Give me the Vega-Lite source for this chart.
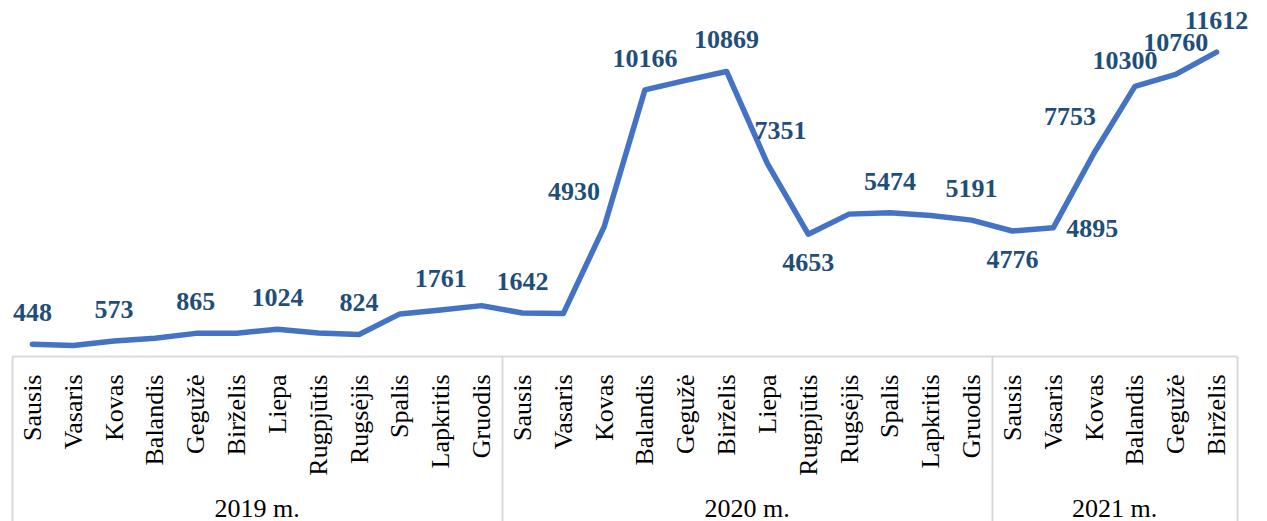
{
  "$schema": "https://vega.github.io/schema/vega-lite/v6.json",
  "width": 1225,
  "height": 356,
  "autosize": {"type": "none"},
  "padding": {"left": 12, "top": 0, "right": 30, "bottom": 165},
  "config": {"view": {"stroke": null}, "font": "Liberation Serif"},
  "data": {
    "values": [
      {"key": "2019|Sausis", "value": 448},
      {"key": "2019|Vasaris", "value": 405},
      {"key": "2019|Kovas", "value": 573},
      {"key": "2019|Balandis", "value": 680},
      {"key": "2019|Gegužė", "value": 865},
      {"key": "2019|Birželis", "value": 870},
      {"key": "2019|Liepa", "value": 1024},
      {"key": "2019|Rugpjūtis", "value": 880},
      {"key": "2019|Rugsėjis", "value": 824},
      {"key": "2019|Spalis", "value": 1608},
      {"key": "2019|Lapkritis", "value": 1761},
      {"key": "2019|Gruodis", "value": 1925},
      {"key": "2020|Sausis", "value": 1642},
      {"key": "2020|Vasaris", "value": 1620},
      {"key": "2020|Kovas", "value": 4930},
      {"key": "2020|Balandis", "value": 10166},
      {"key": "2020|Gegužė", "value": 10530},
      {"key": "2020|Birželis", "value": 10869},
      {"key": "2020|Liepa", "value": 7351},
      {"key": "2020|Rugpjūtis", "value": 4653},
      {"key": "2020|Rugsėjis", "value": 5420},
      {"key": "2020|Spalis", "value": 5474},
      {"key": "2020|Lapkritis", "value": 5370},
      {"key": "2020|Gruodis", "value": 5191},
      {"key": "2021|Sausis", "value": 4776},
      {"key": "2021|Vasaris", "value": 4895},
      {"key": "2021|Kovas", "value": 7753},
      {"key": "2021|Balandis", "value": 10300},
      {"key": "2021|Gegužė", "value": 10760},
      {"key": "2021|Birželis", "value": 11612}
    ]
  },
  "resolve": {"scale": {"x": "independent"}},
  "layer": [
    {
      "encoding": {
        "x": {
          "field": "key",
          "type": "ordinal",
          "sort": null,
          "scale": {"type": "band", "paddingInner": 0, "paddingOuter": 0},
          "axis": {
            "title": null,
            "orient": "bottom",
            "labelExpr": "split(datum.value, '|')[1]",
            "labelAngle": 270,
            "labelAlign": "right",
            "labelBaseline": "middle",
            "labelFont": "Liberation Serif",
            "labelFontSize": 26,
            "labelColor": "#000000",
            "labelPadding": -148,
            "labelOverlap": false,
            "labelBound": false,
            "tickBand": "extent",
            "tickSize": 166,
            "tickColor": "#d9d9d9",
            "tickWidth": 2,
            "tickOpacity": {
              "condition": {
                "test": "datum.extra || indexof(['2019|Gruodis', '2020|Gruodis', '2021|Birželis'], datum.value) >= 0",
                "value": 1
              },
              "value": 0
            },
            "domainColor": "#d9d9d9",
            "domainWidth": 2
          }
        },
        "y": {
          "field": "value",
          "type": "quantitative",
          "scale": {"domain": [0, 13600]},
          "axis": null
        }
      },
      "layer": [
        {
          "mark": {"type": "line", "color": "#4472C4", "strokeWidth": 5.5, "strokeJoin": "round", "strokeCap": "round"}
        },
        {
          "transform": [{"filter": {"field": "key", "oneOf": ["2019|Sausis", "2019|Kovas", "2019|Gegužė", "2019|Liepa", "2019|Rugsėjis", "2019|Lapkritis", "2020|Sausis", "2020|Balandis", "2020|Birželis", "2020|Spalis", "2020|Gruodis", "2021|Gegužė", "2021|Birželis"]}}],
          "mark": {"type": "text", "font": "Liberation Serif", "fontWeight": "bold", "fontSize": 26, "color": "#1F4E79", "baseline": "middle", "align": "center", "dy": -31},
          "encoding": {"text": {"field": "value", "type": "quantitative", "format": "d"}}
        },
        {
          "transform": [{"filter": {"field": "key", "oneOf": ["2020|Rugpjūtis", "2021|Sausis"]}}],
          "mark": {"type": "text", "font": "Liberation Serif", "fontWeight": "bold", "fontSize": 26, "color": "#1F4E79", "baseline": "middle", "align": "center", "dy": 29},
          "encoding": {"text": {"field": "value", "type": "quantitative", "format": "d"}}
        },
        {
          "transform": [{"filter": {"field": "key", "equal": "2020|Kovas"}}],
          "mark": {"type": "text", "font": "Liberation Serif", "fontWeight": "bold", "fontSize": 26, "color": "#1F4E79", "baseline": "middle", "align": "center", "dx": -30, "dy": -35},
          "encoding": {"text": {"field": "value", "type": "quantitative", "format": "d"}}
        },
        {
          "transform": [{"filter": {"field": "key", "equal": "2020|Liepa"}}],
          "mark": {"type": "text", "font": "Liberation Serif", "fontWeight": "bold", "fontSize": 26, "color": "#1F4E79", "baseline": "middle", "align": "center", "dx": 13, "dy": -33},
          "encoding": {"text": {"field": "value", "type": "quantitative", "format": "d"}}
        },
        {
          "transform": [{"filter": {"field": "key", "equal": "2021|Vasaris"}}],
          "mark": {"type": "text", "font": "Liberation Serif", "fontWeight": "bold", "fontSize": 26, "color": "#1F4E79", "baseline": "middle", "align": "center", "dx": 39, "dy": 1},
          "encoding": {"text": {"field": "value", "type": "quantitative", "format": "d"}}
        },
        {
          "transform": [{"filter": {"field": "key", "equal": "2021|Kovas"}}],
          "mark": {"type": "text", "font": "Liberation Serif", "fontWeight": "bold", "fontSize": 26, "color": "#1F4E79", "baseline": "middle", "align": "center", "dx": -24, "dy": -36},
          "encoding": {"text": {"field": "value", "type": "quantitative", "format": "d"}}
        },
        {
          "transform": [{"filter": {"field": "key", "equal": "2021|Balandis"}}],
          "mark": {"type": "text", "font": "Liberation Serif", "fontWeight": "bold", "fontSize": 26, "color": "#1F4E79", "baseline": "middle", "align": "center", "dx": -10, "dy": -25},
          "encoding": {"text": {"field": "value", "type": "quantitative", "format": "d"}}
        }
      ]
    },
    {
      "mark": {"type": "point", "opacity": 0},
      "encoding": {
        "x": {
          "field": "key",
          "type": "ordinal",
          "sort": null,
          "scale": {"type": "band", "paddingInner": 0, "paddingOuter": 0},
          "axis": {
            "title": null,
            "orient": "bottom",
            "values": ["2019|Liepa", "2020|Liepa", "2021|Balandis"],
            "labelExpr": "split(datum.value, '|')[0] + ' m.'",
            "labelOffset": -20.4,
            "ticks": false,
            "domain": false,
            "labelAngle": 0,
            "labelAlign": "center",
            "labelBaseline": "top",
            "labelFont": "Liberation Serif",
            "labelFontSize": 26,
            "labelColor": "#000000",
            "labelPadding": 139,
            "labelOverlap": false,
            "labelBound": false
          }
        }
      }
    }
  ]
}
